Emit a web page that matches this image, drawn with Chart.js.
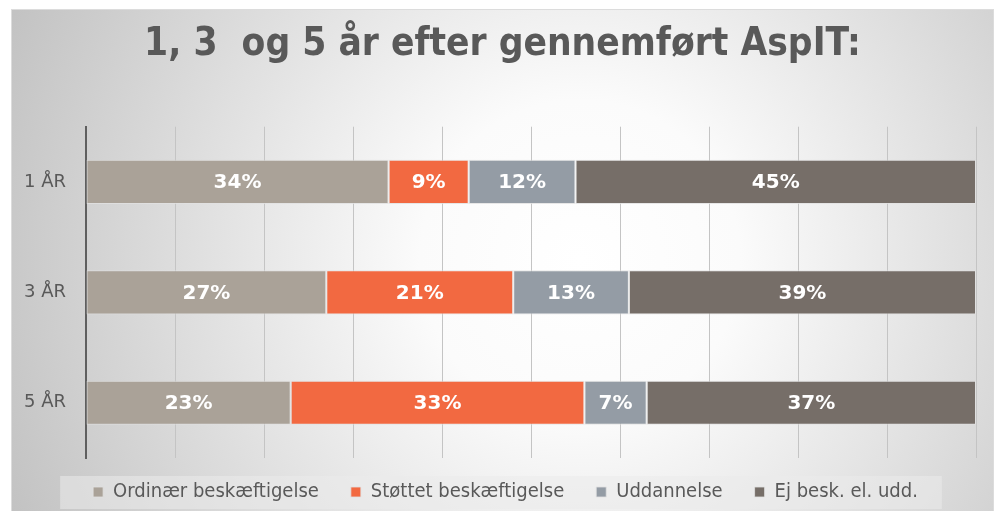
<!DOCTYPE html>
<html>
<head>
<meta charset="utf-8">
<script src="https://cdn.jsdelivr.net/npm/chart.js@4/dist/chart.umd.min.js"></script>
<style>
  html, body { margin: 0; padding: 0; background: #fff; }
  #wrap { width: 997px; height: 511px; }
</style>
</head>
<body>
<div id="wrap"><canvas id="aspitChart" width="997" height="511"></canvas></div>
<script>
// kategorier og serier (procent)
const years = ['1 ÅR', '3 ÅR', '5 ÅR'];
const ordinaer = [34, 27, 23];
const stoettet = [9, 21, 33];
const uddannelse = [12, 13, 7];
const ejBesk = [45, 39, 37];
const seriesNames = ['Ordinær beskæftigelse', 'Støttet beskæftigelse', 'Uddannelse', 'Ej besk. el. udd.'];
const seriesColors = ['#aaa298', '#f26941', '#949ca5', '#766e68'];

const condensed = '"DejaVu Sans Condensed", "DejaVu Sans", sans-serif';

// baggrund med radial gradient + ramme
const bgPlugin = {
  id: 'bg',
  beforeDraw(chart) {
    const ctx = chart.ctx;
    ctx.save();
    ctx.fillStyle = '#ffffff';
    ctx.fillRect(0, 0, chart.width, chart.height);
    const g = ctx.createRadialGradient(580, 260, 0, 580, 260, 640);
    g.addColorStop(0, '#ffffff');
    g.addColorStop(0.25, '#fbfbfb');
    g.addColorStop(1, '#c0c0c0');
    ctx.fillStyle = g;
    ctx.fillRect(11, 9, 983, 502);
    ctx.strokeStyle = '#dcdcdc';
    ctx.lineWidth = 1;
    ctx.strokeRect(11.5, 9.5, 982, 503);

    // grå boks bag forklaringen
    const lg = chart.legend;
    if (lg && lg.legendHitBoxes && lg.legendHitBoxes.length) {
      const hb = lg.legendHitBoxes;
      const last = hb[hb.length - 1];
      const cy = hb[0].top + hb[0].height / 2;
      ctx.fillStyle = 'rgba(235,235,235,0.55)';
      ctx.fillRect(hb[0].left - 33, cy - 16, last.left + last.width + 24 - (hb[0].left - 33), 33);
    }
    ctx.restore();
  },
  afterLayout(chart) {
    const lg = chart.legend;
    lg.top -= 8; lg.bottom -= 8;
    lg.left += 12; lg.right += 12;
    // titel centreres over hele rammen
    const t = chart.titleBlock;
    t.left += 9; t.right += 9;
  }
};

// procent-tal inde i søjlerne
const labelPlugin = {
  id: 'barLabels',
  afterDatasetsDraw(chart) {
    const ctx = chart.ctx;
    ctx.save();
    ctx.font = 'bold 20px "DejaVu Sans", sans-serif';
    ctx.fillStyle = '#ffffff';
    ctx.textAlign = 'center';
    ctx.textBaseline = 'middle';
    chart.data.datasets.forEach((ds, i) => {
      chart.getDatasetMeta(i).data.forEach((bar, j) => {
        const p = bar.getProps(['x', 'y', 'base'], true);
        ctx.fillText(ds.data[j] + '%', (p.x + p.base) / 2, p.y + 1);
      });
    });
    ctx.restore();
  }
};

const allData = [ordinaer, stoettet, uddannelse, ejBesk];

const ctx = document.getElementById('aspitChart').getContext('2d');
new Chart(ctx, {
  type: 'bar',
  data: {
    labels: years,
    datasets: allData.map((d, i) => ({
      label: seriesNames[i],
      data: d,
      backgroundColor: seriesColors[i],
      borderColor: 'rgba(225,225,225,0.8)',
      borderWidth: 1,
      borderSkipped: false,
      categoryPercentage: 1,
      barPercentage: 0.4
    }))
  },
  options: {
    indexAxis: 'y',
    responsive: false,
    animation: false,
    devicePixelRatio: 1,
    layout: { padding: { top: 10, left: 11, right: 21, bottom: 0 } },
    plugins: {
      title: {
        display: true,
        text: '1, 3  og 5 år efter gennemført AspIT:',
        color: '#595959',
        font: { family: condensed, size: 38.5, weight: 'bold' },
        padding: { top: 12, bottom: 58.5 }
      },
      legend: {
        position: 'bottom',
        maxHeight: 53,
        labels: {
          color: '#595959',
          font: { family: condensed, size: 20 },
          boxWidth: 10,
          boxHeight: 10,
          padding: 32
        }
      },
      tooltip: { enabled: false }
    },
    scales: {
      x: {
        stacked: true,
        min: 0,
        max: 100,
        ticks: { display: false, stepSize: 10 },
        grid: { color: '#c4c4c4', drawTicks: false },
        border: { display: false }
      },
      y: {
        stacked: true,
        grid: { display: false, drawTicks: false },
        border: { display: true, color: '#5f5f5f', width: 2 },
        ticks: { color: '#595959', font: { family: '"DejaVu Sans", sans-serif', size: 18 }, padding: 20 },
        afterFit(s) { s.width = 75; }
      }
    }
  },
  plugins: [bgPlugin, labelPlugin]
});
</script>
</body>
</html>
